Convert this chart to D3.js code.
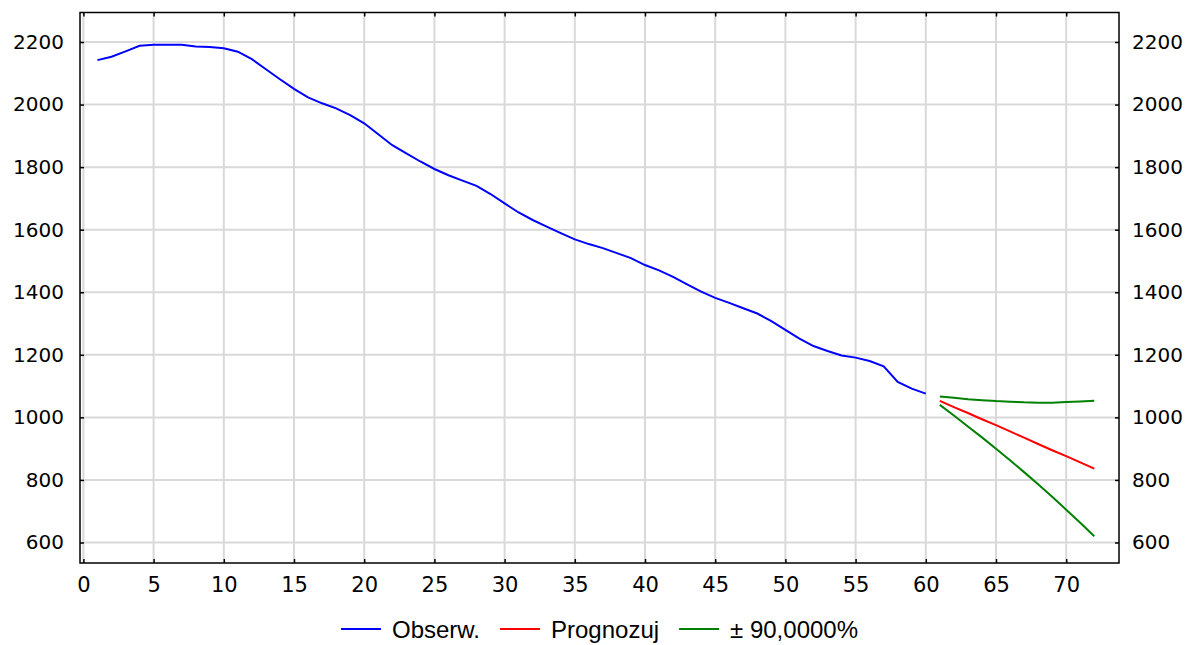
<!DOCTYPE html>
<html>
<head>
<meta charset="utf-8">
<script src="https://cdn.jsdelivr.net/npm/d3@7"></script>
<style>
    html, body { margin: 0; padding: 0; background: #fff; }
    svg { display: block; }
</style>
</head>
<body>
<div id="chart"></div>
<script>
// observed series starts at t = 1, forecast at t = 61
const obsStart = 1;
const fcStart = 61;

const observed = [
    2142, 2153, 2170, 2188, 2191, 2191, 2191, 2186, 2184, 2180,
    2169, 2145, 2113, 2081, 2050, 2023, 2004, 1988, 1966, 1940,
    1905, 1870, 1844, 1818, 1794, 1774, 1757, 1740, 1714, 1684,
    1655, 1631, 1610, 1589, 1569, 1554, 1541, 1525, 1509, 1487,
    1470, 1449, 1425, 1402, 1382, 1366, 1349, 1332, 1308, 1280,
    1252, 1228, 1212, 1198, 1191, 1180, 1163, 1113, 1092, 1076
];
const forecast = [1053, 1033, 1014, 994, 975, 955, 935, 915, 895, 876, 856, 836];
const upper90 = [1067, 1063, 1058, 1055, 1052, 1050, 1048, 1047, 1047, 1049, 1051, 1053];
const lower90 = [1040, 1006, 971, 936, 900, 863, 825, 786, 746, 705, 663, 620];

const xTicks = [0, 5, 10, 15, 20, 25, 30, 35, 40, 45, 50, 55, 60, 65, 70];
const yTicks = [600, 800, 1000, 1200, 1400, 1600, 1800, 2000, 2200];

const legendLabels = ["Obserw.", "Prognozuj", "± 90,0000%"];
const legendColors = ["#0000ff", "#ff0000", "#008000"];

const width = 1190;
const height = 645;
const frame = { left: 80, right: 1119, top: 12.5, bottom: 563 };

const svg = d3.select("#chart")
    .append("svg")
    .attr("width", width)
    .attr("height", height);

const x = d3.scaleLinear().domain([0, 70]).range([83.4, 1066.2]);
const y = d3.scaleLinear().domain([600, 2200]).range([542.5, 42]);

// grid
const grid = svg.append("g").attr("class", "grid");
grid.selectAll(".vgrid")
    .data(xTicks)
    .enter()
    .append("line")
    .attr("x1", d => x(d)).attr("x2", d => x(d))
    .attr("y1", frame.top).attr("y2", frame.bottom)
    .attr("stroke", "#d9d9d9")
    .attr("stroke-width", 2);
grid.selectAll(".hgrid")
    .data(yTicks)
    .enter()
    .append("line")
    .attr("x1", frame.left).attr("x2", frame.right)
    .attr("y1", d => y(d)).attr("y2", d => y(d))
    .attr("stroke", "#d9d9d9")
    .attr("stroke-width", 2);

// axes, ticks point inward
const tickLen = 4;
const axisFont = "'DejaVu Sans', sans-serif";

const bottomAxis = svg.append("g")
    .attr("transform", `translate(0,${frame.bottom})`)
    .call(d3.axisBottom(x).tickValues(xTicks).tickSize(-tickLen).tickPadding(14).tickFormat(d3.format("d")));
const topAxis = svg.append("g")
    .attr("transform", `translate(0,${frame.top})`)
    .call(d3.axisTop(x).tickValues(xTicks).tickSize(-tickLen).tickFormat(""));
const leftAxis = svg.append("g")
    .attr("transform", `translate(${frame.left},0)`)
    .call(d3.axisLeft(y).tickValues(yTicks).tickSize(-tickLen).tickPadding(16).tickFormat(d3.format("d")));
const rightAxis = svg.append("g")
    .attr("transform", `translate(${frame.right},0)`)
    .call(d3.axisRight(y).tickValues(yTicks).tickSize(-tickLen).tickPadding(13).tickFormat(d3.format("d")));

[bottomAxis, topAxis, leftAxis, rightAxis].forEach(a => {
    a.select(".domain").remove();
    a.selectAll(".tick line").attr("stroke", "#000").attr("stroke-width", 1.5);
    a.selectAll("text")
        .attr("fill", "#000")
        .style("font-family", axisFont)
        .style("font-size", "20px");
});
bottomAxis.selectAll("text").style("font-size", "21px");

// frame
svg.append("rect")
    .attr("x", frame.left)
    .attr("y", frame.top)
    .attr("width", frame.right - frame.left)
    .attr("height", frame.bottom - frame.top)
    .attr("fill", "none")
    .attr("stroke", "#000")
    .attr("stroke-width", 1.5);

// series
const line = d3.line()
    .x(d => x(d.t))
    .y(d => y(d.v));

const toPoints = (arr, start) => arr.map((v, i) => ({ t: start + i, v: v }));

const series = [
    { pts: toPoints(observed, obsStart), color: legendColors[0] },
    { pts: toPoints(upper90, fcStart), color: legendColors[2] },
    { pts: toPoints(lower90, fcStart), color: legendColors[2] },
    { pts: toPoints(forecast, fcStart), color: legendColors[1] }
];

svg.append("g").selectAll("path")
    .data(series)
    .enter()
    .append("path")
    .attr("d", d => line(d.pts))
    .attr("fill", "none")
    .attr("stroke", d => d.color)
    .attr("stroke-width", 2);

// legend, centred under the plot
const legend = svg.append("g");
const lineW = 40, lineGap = 11, itemGap = 20;
let cursor = 0;
legendLabels.forEach((label, i) => {
    const item = legend.append("g").attr("transform", `translate(${cursor},0)`);
    item.append("line")
        .attr("x1", 0).attr("x2", lineW)
        .attr("y1", -9).attr("y2", -9)
        .attr("stroke", legendColors[i])
        .attr("stroke-width", 2);
    const txt = item.append("text")
        .attr("x", lineW + lineGap)
        .attr("y", 0)
        .attr("fill", "#000")
        .style("font-family", "'Liberation Sans', Arial, sans-serif")
        .style("font-size", "24px")
        .text(label);
    cursor += lineW + lineGap + txt.node().getComputedTextLength() + itemGap;
});
const legendW = cursor - itemGap;
legend.attr("transform", `translate(${(frame.left + frame.right) / 2 - legendW / 2},638)`);
</script>
</body>
</html>
